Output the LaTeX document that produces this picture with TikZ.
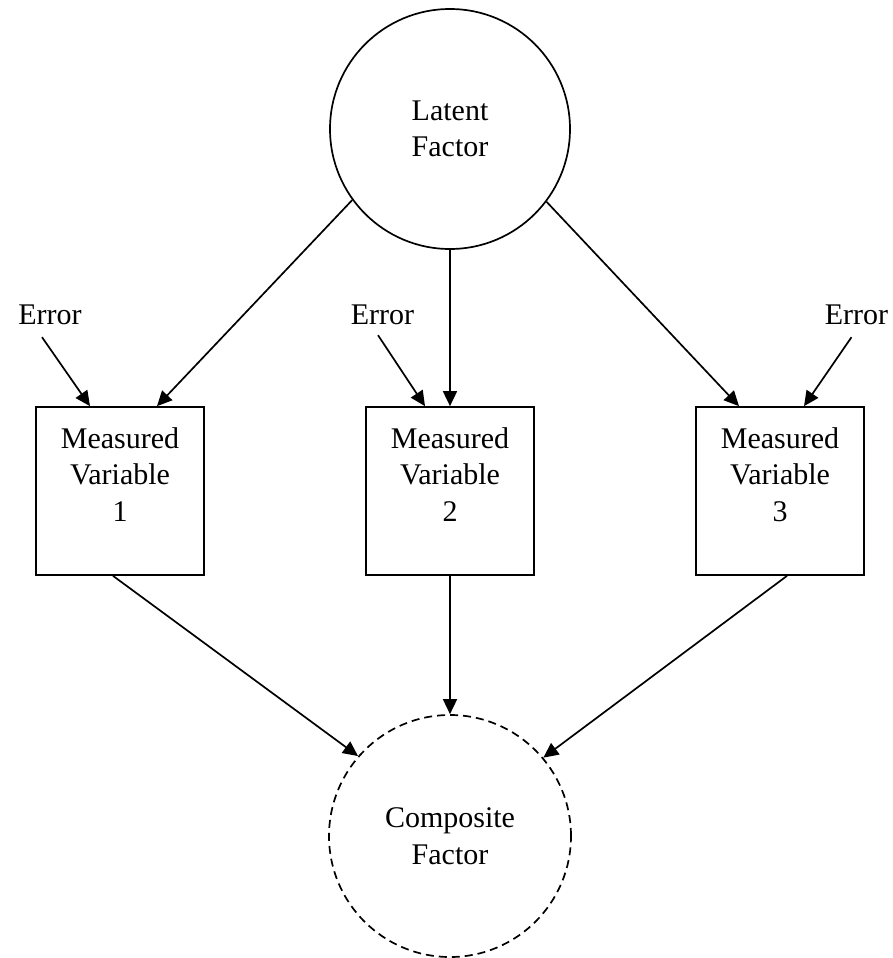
\documentclass[tikz,border=0pt]{standalone}
\usepackage{fontspec}
\setmainfont{Liberation Serif}
\usetikzlibrary{arrows.meta}
\tikzset{
  every node/.style={font=\fontsize{30pt}{36.5pt}\selectfont},
  conn/.style={line width=1.7pt,-{Triangle[length=15pt,width=14pt]}},
  factor/.style={circle,draw,line width=1.7pt,minimum size=240pt,inner sep=0pt,align=center},
  compfactor/.style={circle,draw,line width=1.7pt,dash pattern=on 8pt off 5pt,minimum size=242pt,inner sep=0pt,align=center},
  mvbox/.style={rectangle,draw,line width=1.7pt,minimum width=168pt,minimum height=168pt,inner sep=0pt},
  mvtext/.style={anchor=north,inner sep=0pt,align=center,yshift=-21pt},
  errtext/.style={inner sep=0pt}
}
\begin{document}
\begin{tikzpicture}[x=1pt,y=-1pt]
\useasboundingbox (0,0) rectangle (893,958);
\node[factor] (L) at (450,129) {Latent\\Factor};
\node[compfactor] (C) at (450,836) {Composite\\Factor};
\node[mvbox,label={[mvtext]north:Measured\\Variable\\1}] (m1) at (120,491) {};
\node[mvbox,label={[mvtext]north:Measured\\Variable\\2}] (m2) at (450,491) {};
\node[mvbox,label={[mvtext]north:Measured\\Variable\\3}] (m3) at (780,491) {};
\node[errtext] (e1) at (50,315) {Error};
\node[errtext] (e2) at (382.5,315) {Error};
\node[errtext] (e3) at (856.5,315) {Error};
% latent to measured
\draw[conn] (L.216.7) -- ([xshift=37pt]m1.north);
\draw[conn] (L.south) -- (m2.north);
\draw[conn] (L.323) -- ([xshift=-41pt]m3.north);
% errors
\draw[conn] ([xshift=-8pt,yshift=-12pt]e1.south) -- ([xshift=-30pt]m1.north);
\draw[conn] ([xshift=-4.5pt,yshift=-10pt]e2.south) -- ([xshift=-25pt]m2.north);
\draw[conn] ([xshift=-5pt,yshift=-12pt]e3.south) -- ([xshift=24pt]m3.north);
% measured to composite
\draw[conn] ([xshift=-7pt]m1.south) -- (C.139.4);
\draw[conn] (m2.south) -- (C.north);
\draw[conn] ([xshift=7pt]m3.south) -- (C.40.6);
\end{tikzpicture}
\end{document}
